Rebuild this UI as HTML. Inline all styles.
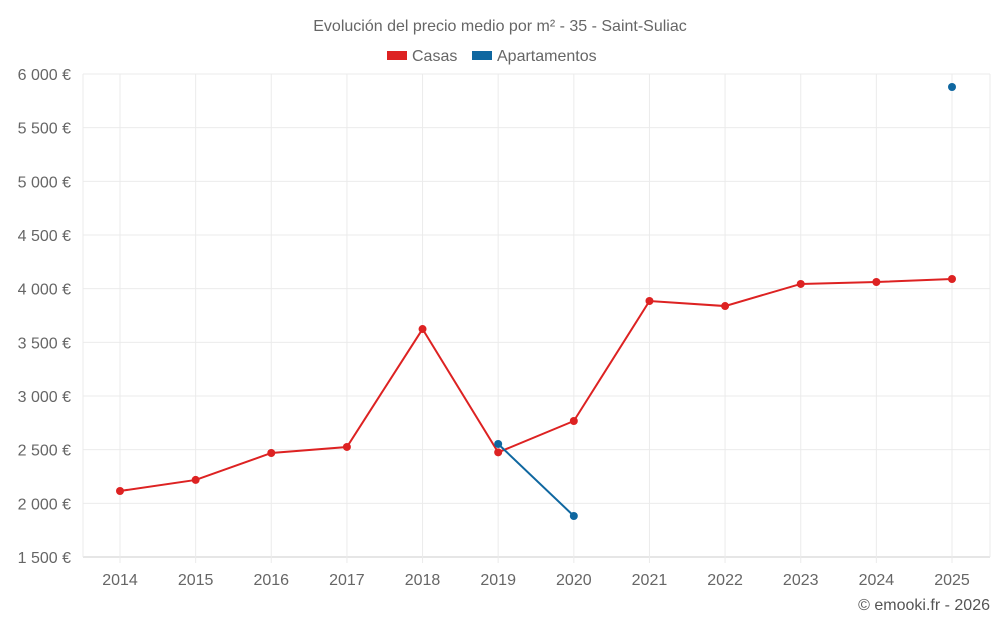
<!DOCTYPE html>
<html><head><meta charset="utf-8"><style>
body{margin:0;background:#fff;font-family:"Liberation Sans",sans-serif;}
svg text{font-family:"Liberation Sans",sans-serif;}
</style></head><body>
<svg id="c" width="1000" height="625">
<text x="500" y="31" text-anchor="middle" font-size="16" fill="#666">Evolución del precio medio por m² - 35 - Saint-Suliac</text>
<g>
<g><rect x="387" y="51" width="20" height="9" fill="#dd2222"/><text x="412" y="61" font-size="16" fill="#666">Casas</text></g>
<g><rect x="472" y="51" width="20" height="9" fill="#0f67a0"/><text x="497" y="61" font-size="16" fill="#666">Apartamentos</text></g>
</g>
<g id="grid"></g><g id="axes"></g><g id="series"></g>
<text x="990" y="610" text-anchor="end" font-size="16" fill="#555">© emooki.fr - 2026</text>
</svg>
<script>
const years=[2014,2015,2016,2017,2018,2019,2020,2021,2022,2023,2024,2025];
const casas=[2115,2218,2469,2525,3624,2475,2767,3885,3838,4044,4062,4090];
const apartamentos=[null,null,null,null,null,2553,1882,null,null,null,null,5879];
const yTicks=[1500,2000,2500,3000,3500,4000,4500,5000,5500,6000];
const yLabels=["1 500 €","2 000 €","2 500 €","3 000 €","3 500 €","4 000 €","4 500 €","5 000 €","5 500 €","6 000 €"];
const NS="http://www.w3.org/2000/svg";
const L=83,R=990,T=74,B=557;
const yS=v=>B-(v-1500)/(6000-1500)*(B-T);
const xS=i=>120+i*(952-120)/(years.length-1);
function mk(tag,at,p){const e=document.createElementNS(NS,tag);for(const k in at)e.setAttribute(k,at[k]);p.appendChild(e);return e;}
const g=document.getElementById('grid'),ax=document.getElementById('axes'),s=document.getElementById('series');
yTicks.forEach((v,i)=>{
 const ln=mk('line',{x1:L,x2:R,y1:yS(v),y2:yS(v),stroke:i==0?'#ccc':'#ebebeb'},g);
 
 
 const t=mk('text',{x:71,y:yS(v)+6,'text-anchor':'end','font-size':16,fill:'#666'},ax);t.textContent=yLabels[i];
 
 
});
mk('line',{x1:L,x2:L,y1:T,y2:B,stroke:'#ebebeb'},g);
years.forEach((y,i)=>{
 const ln=mk('line',{x1:xS(i),x2:xS(i),y1:T,y2:B+6,stroke:'#ebebeb'},g);
 
 
 const t=mk('text',{x:xS(i),y:585,'text-anchor':'middle','font-size':16,fill:'#666'},ax);t.textContent=y;
 
 
});
mk('line',{x1:R,x2:R,y1:T,y2:B,stroke:'#ebebeb'},g);
function draw(data,color,name){
 let seg=[];const segs=[];
 data.forEach((v,i)=>{if(v==null){if(seg.length)segs.push(seg);seg=[];}else seg.push([xS(i),yS(v)]);});
 if(seg.length)segs.push(seg);
 segs.forEach(sg=>{if(sg.length>1){const p=mk('polyline',{points:sg.map(q=>q.join(',')).join(' '),fill:'none',stroke:color,'stroke-width':2},s);
  
  }});
 data.forEach((v,i)=>{if(v==null)return;const c=mk('circle',{cx:xS(i),cy:yS(v),r:4,fill:color},s);
  
  });
}
draw(casas,'#dd2222','casas');
draw(apartamentos,'#0f67a0','apartamentos');
</script>
</body></html>
